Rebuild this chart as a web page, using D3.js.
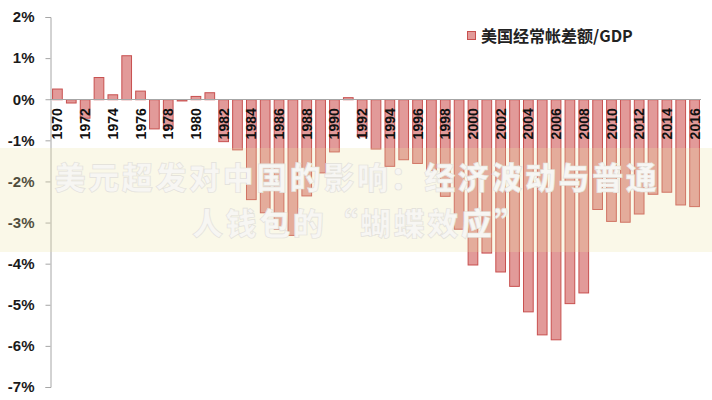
<!DOCTYPE html>
<html>
<head>
<meta charset="utf-8">
<script src="https://cdn.jsdelivr.net/npm/d3@7"></script>
<style>
  html, body { margin: 0; padding: 0; background: #fff; }
  svg { display: block; }
</style>
</head>
<body>
<svg id="chart" width="712" height="400"></svg>
<script>
const years = [1970,1971,1972,1973,1974,1975,1976,1977,1978,1979,
  1980,1981,1982,1983,1984,1985,1986,1987,1988,1989,
  1990,1991,1992,1993,1994,1995,1996,1997,1998,1999,
  2000,2001,2002,2003,2004,2005,2006,2007,2008,2009,
  2010,2011,2012,2013,2014,2015,2016];
const balanceToGDP = [0.26,-0.08,-0.45,0.54,0.12,1.07,0.21,-0.71,-0.70,-0.03,
  0.08,0.17,-1.02,-1.22,-2.43,-2.75,-3.15,-3.30,-2.34,-1.78,
  -1.27,0.05,-0.90,-1.20,-1.62,-1.46,-1.55,-1.72,-2.35,-3.15,
  -4.02,-3.73,-4.19,-4.54,-5.16,-5.72,-5.84,-4.96,-4.70,-2.67,
  -2.96,-2.98,-2.78,-2.30,-2.25,-2.56,-2.60];
const yTicks = [2,1,0,-1,-2,-3,-4,-5,-6,-7];
const yTickLabels = ["2%","1%","0%","-1%","-2%","-3%","-4%","-5%","-6%","-7%"];
const yearLabels = ["1970","1972","1974","1976","1978","1980","1982","1984","1986","1988","1990","1992","1994","1996","1998","2000","2002","2004","2006","2008","2010","2012","2014","2016"];
const seriesName = "美国经常帐差额/GDP";
const titleLines = ["美元超发对中国的影响：经济波动与普通", "人钱包的“蝴蝶效应”"];

const svg = d3.select("#chart");
const latin = "'Liberation Sans', Arial, sans-serif";
const cjk = "'Noto Sans CJK SC', 'Liberation Sans', sans-serif";

const x = d3.scaleBand().domain(years).range([50, 701]).paddingInner(0.3).paddingOuter(0.15);
const y = d3.scaleLinear().domain([-7, 2]).range([387, 17]);

// bars
svg.append("g").selectAll("rect").data(years).join("rect")
  .attr("x", d => x(d) + 0.5)
  .attr("width", x.bandwidth())
  .attr("y", (d, i) => y(Math.max(0, balanceToGDP[i])) + 0.5)
  .attr("height", (d, i) => Math.abs(y(balanceToGDP[i]) - y(0)))
  .attr("fill", "#e29a99")
  .attr("stroke", "#c8504f")
  .attr("stroke-width", 1);

// y axis
const yAxis = d3.axisLeft(y).tickValues(yTicks).tickSize(5)
  .tickFormat((d, i) => yTickLabels[i]);
const gy = svg.append("g").attr("transform", "translate(50.5,0)").call(yAxis);
gy.select(".domain").attr("stroke", "#a6a6a6");
gy.selectAll(".tick line").attr("stroke", "#a6a6a6");
gy.selectAll(".tick text")
  .attr("x", -16)
  .attr("fill", "#1a1a1a")
  .style("font-family", latin)
  .style("font-weight", "bold")
  .style("font-size", "15px");

// zero line (category axis)
const xAxis = d3.axisBottom(x).tickSize(0).tickFormat("");
const gx = svg.append("g").attr("transform", `translate(0,${Math.round(y(0)) + 0.5})`).call(xAxis);
gx.select(".domain").attr("stroke", "#a6a6a6").attr("d", "M50,0H701");

// year labels
svg.append("g").selectAll("text").data(yearLabels).join("text")
  .attr("transform", d => `translate(${x(+d) + x.bandwidth() / 2 + 0.5},${y(0) + 9}) rotate(-90)`)
  .attr("text-anchor", "end")
  .attr("dy", "0.36em")
  .attr("fill", "#111")
  .style("font-family", latin)
  .style("font-weight", "bold")
  .style("font-size", "14px")
  .text(d => d);

// legend
const lg = svg.append("g");
lg.append("rect").attr("x", 467.5).attr("y", 31.5).attr("width", 8).attr("height", 8)
  .attr("fill", "#e29a99").attr("stroke", "#c8504f");
lg.append("text").attr("x", 481).attr("y", 41.5)
  .attr("fill", "#222")
  .style("font-family", cjk)
  .style("font-weight", "bold")
  .style("font-size", "16px")
  .text(seriesName);

// overlay banner
svg.append("rect").attr("x", 0).attr("y", 148).attr("width", 712).attr("height", 104)
  .attr("fill", "#ebe3a3").attr("opacity", 0.25);

svg.append("g").selectAll("text").data(titleLines).join("text")
  .attr("x", (d, i) => i === 0 ? 357 : 360)
  .attr("y", (d, i) => i === 0 ? 189 : 235)
  .attr("text-anchor", "middle")
  .attr("fill", "#f7f6f3")
  .attr("stroke", "#e2e0da")
  .attr("stroke-width", 0.6)
  .style("font-family", cjk)
  .style("font-weight", 900)
  .style("font-size", "31px")
  .style("letter-spacing", "2.6px")
  .text(d => d);
</script>
</body>
</html>
